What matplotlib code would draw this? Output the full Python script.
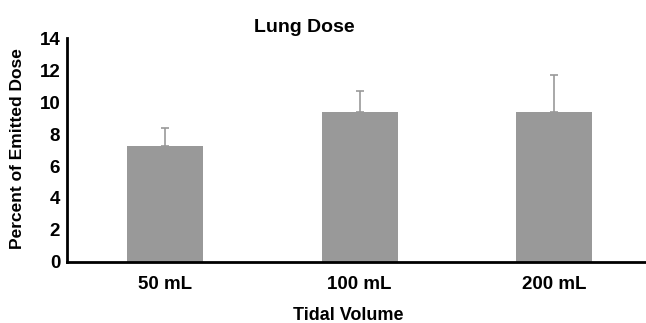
import numpy as np
import matplotlib
matplotlib.use("Agg")
import matplotlib.pyplot as plt

plt.rcParams['font.family'] = ['Liberation Sans', 'DejaVu Sans']

# data
volumes = ["50 mL", "100 mL", "200 mL"]
dose = [7.25, 9.4, 9.4]
dose_err = [1.1, 1.3, 2.3]

fig = plt.figure(figsize=(6.46, 3.23), dpi=100)
ax = fig.add_axes([0.104, 0.189, 0.896, 0.693])

x = np.arange(len(volumes))
ax.bar(x, dose, width=0.39, color='#999999', zorder=2)
ax.errorbar(x, dose, yerr=[np.zeros(len(dose)), dose_err], fmt='none',
            ecolor='#999999', elinewidth=1.2, capsize=3, capthick=1.2, zorder=1)

ax.set_xlim(-0.5, 2.47)
ax.set_ylim(0, 14)
ax.set_yticks(range(0, 15, 2))
ax.set_xticks(x)
ax.set_xticklabels(volumes)
ax.tick_params(axis='both', length=0, labelsize=13.5)
ax.tick_params(axis='x', pad=10)
ax.tick_params(axis='y', pad=5)
for lab in ax.get_xticklabels() + ax.get_yticklabels():
    lab.set_fontweight('bold')

ax.spines['top'].set_visible(False)
ax.spines['right'].set_visible(False)
ax.spines['left'].set_linewidth(2)
ax.spines['bottom'].set_linewidth(2)

fig.text(0.027, 0.54, "Percent of Emitted Dose", ha='center', va='center',
         rotation=90, fontsize=12.5, fontweight='bold')
fig.text(0.5395, 0.01, "Tidal Volume", ha='center', va='baseline',
         fontsize=13, fontweight='bold')
fig.text(0.471, 0.90, "Lung Dose", ha='center', va='baseline',
         fontsize=14, fontweight='bold')

plt.savefig('out.png', dpi=100)
